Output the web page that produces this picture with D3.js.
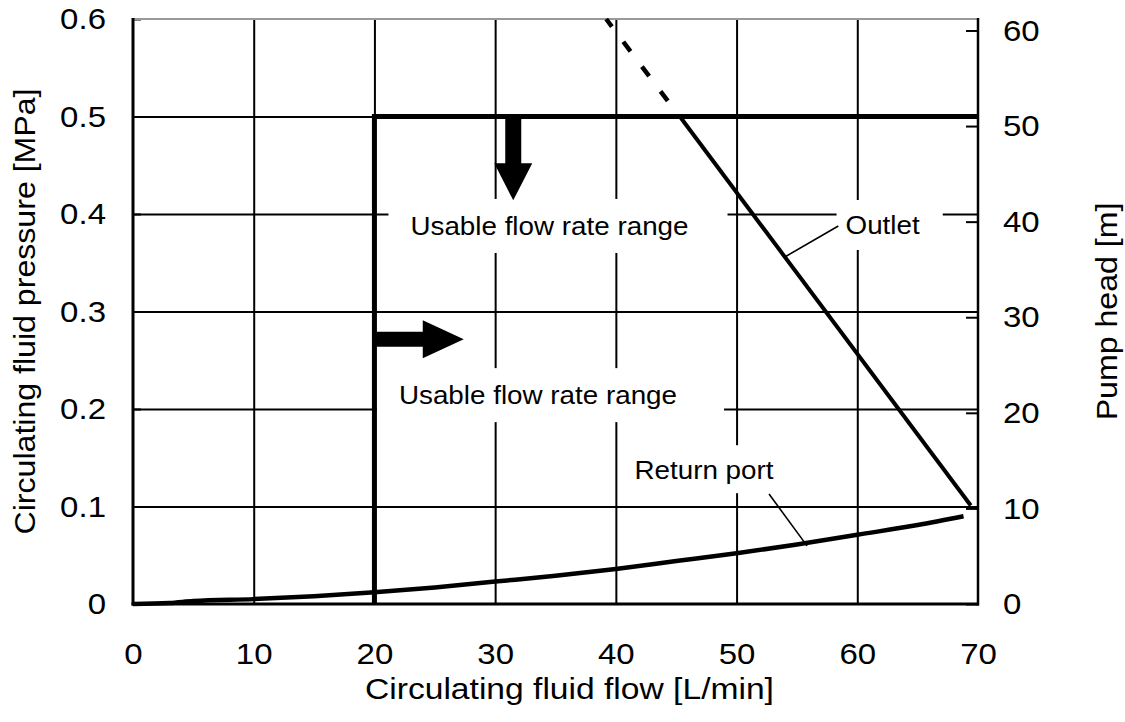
<!DOCTYPE html>
<html><head><meta charset="utf-8">
<script src="https://cdn.jsdelivr.net/npm/d3@7"></script>
<style>
body{margin:0;background:#fff}
svg{display:block}
text{font-family:"Liberation Sans",Arial,Helvetica,sans-serif;fill:#000}
</style>
</head><body>
<svg id="c" width="1125" height="722"></svg>
<script>
// ---------- data ----------
const flowTicks = [0, 10, 20, 30, 40, 50, 60, 70];
const pressureTicks = [0, 0.1, 0.2, 0.3, 0.4, 0.5, 0.6];
const headTicks = [0, 10, 20, 30, 40, 50, 60];
const mPerMPa = 102;                 // pump head [m] per MPa
const usableMinFlow = 20;            // L/min
const usableMaxPressure = 0.5;       // MPa
const outletFlow = [45.3, 69.4];
const outletPressure = [0.5, 0.101];
const outletExtFlow = [44.3, 39.2];
const outletExtPressure = [0.516, 0.6];
const returnFlow = [0, 3, 5, 10, 15, 20, 25, 30, 35, 40, 45, 50, 55, 60, 65, 68.8];
const returnPressure = [0, 0.001, 0.003, 0.005, 0.008, 0.012, 0.017, 0.023, 0.029, 0.036, 0.044, 0.052, 0.061, 0.071, 0.081, 0.090];
const labelTexts = ["Usable flow rate range", "Usable flow rate range", "Outlet", "Return port"];
const labelFlow = [34.5, 33.55, 62.1, 47.3];
const labelPressure = [0.3785, 0.205, 0.3795, 0.128];
const xTitle = "Circulating fluid flow [L/min]";
const yTitle = "Circulating fluid pressure [MPa]";
const y2Title = "Pump head [m]";

// ---------- layout ----------
const M = {left: 133, right: 978, top: 19, bottom: 604};
const svg = d3.select("#c");
const x = d3.scaleLinear().domain([0, 70]).range([M.left, M.right]);
const y = d3.scaleLinear().domain([0, 0.6]).range([M.bottom, M.top]);
const yH = d3.scaleLinear().domain([0, 0.6 * mPerMPa]).range([M.bottom, M.top]);
const FONT = "'Liberation Sans',Arial,Helvetica,sans-serif";

function stretch(sel, f) {
  sel.each(function () {
    const l = this.getComputedTextLength();
    this.setAttribute("textLength", l * f);
    this.setAttribute("lengthAdjust", "spacingAndGlyphs");
  });
}

// ---------- grid ----------
const gx = svg.append("g").attr("transform", `translate(0,${M.bottom})`)
  .call(d3.axisBottom(x).tickValues(flowTicks.slice(1, -1)).tickSize(-(M.bottom - M.top)).tickFormat(""));
gx.select(".domain").remove();
gx.selectAll("line").attr("stroke", "#000").attr("stroke-width", 2);

const gy = svg.append("g").attr("transform", `translate(${M.left},0)`)
  .call(d3.axisLeft(y).tickValues(pressureTicks.slice(1, -1)).tickSize(-(M.right - M.left)).tickFormat(""));
gy.select(".domain").remove();
gy.selectAll("line").attr("stroke", "#000").attr("stroke-width", 2);

// inner ticks
const tl = svg.append("g").attr("transform", `translate(${M.left},0)`)
  .call(d3.axisRight(y).tickValues(pressureTicks).tickSize(8).tickFormat(""));
tl.select(".domain").remove();
tl.selectAll("line").attr("stroke", "#000").attr("stroke-width", 2);
const tr = svg.append("g").attr("transform", `translate(${M.right},0)`)
  .call(d3.axisLeft(yH).tickValues(headTicks).tickSize(12).tickFormat(""));
tr.select(".domain").remove();
tr.selectAll("line").attr("stroke", "#000").attr("stroke-width", 2);

// frame
svg.append("line").attr("x1", x(0)).attr("x2", x(70)).attr("y1", y(0.6)).attr("y2", y(0.6))
  .attr("stroke", "#999").attr("stroke-width", 2);
svg.append("line").attr("x1", x(0)).attr("x2", x(0)).attr("y1", y(0) + 1.5).attr("y2", y(0.6) - 1)
  .attr("stroke", "#000").attr("stroke-width", 3);
svg.append("line").attr("x1", x(70)).attr("x2", x(70)).attr("y1", y(0) + 1.5).attr("y2", y(0.6) - 1)
  .attr("stroke", "#000").attr("stroke-width", 2.5);
svg.append("line").attr("x1", x(0) - 1.5).attr("x2", x(70) + 1).attr("y1", y(0)).attr("y2", y(0))
  .attr("stroke", "#000").attr("stroke-width", 3);

// ---------- label boxes (white, over grid) ----------
const boxPad = [[22, 39, 36, 18], [22, 47, 36, 18], [9, 23, 34, 16], [10, 25, 34, 14]];
const lab = svg.append("g");
labelTexts.forEach((t, i) => {
  const g = lab.append("g");
  const r = g.append("rect").attr("fill", "#fff");
  const tx = g.append("text").attr("x", x(labelFlow[i])).attr("y", y(labelPressure[i]))
    .attr("text-anchor", "middle").attr("font-size", 25.5).text(t);
  stretch(tx, 1.09);
  const b = tx.node().getBBox();
  const p = boxPad[i];
  r.attr("x", b.x - p[0]).attr("width", b.width + p[0] + p[1])
   .attr("y", y(labelPressure[i]) - p[2]).attr("height", p[2] + p[3]);
});

// ---------- usable range boundary ----------
svg.append("path")
  .attr("d", d3.line()([[x(usableMinFlow), y(0)], [x(usableMinFlow), y(usableMaxPressure)], [x(70), y(usableMaxPressure)]]))
  .attr("fill", "none").attr("stroke", "#000").attr("stroke-width", 5).attr("stroke-linejoin", "miter");

// arrows
const ax = x(31.5), ay0 = y(usableMaxPressure), ayTip = y(0.414);
svg.append("polygon").attr("fill", "#000").attr("points", [
  [ax - 8, ay0], [ax + 8, ay0], [ax + 8, ayTip - 37], [ax + 19, ayTip - 37], [ax, ayTip],
  [ax - 19, ayTip - 37], [ax - 8, ayTip - 37]].map(p => p.join(",")).join(" "));
const by = y(0.2715), bx0 = x(usableMinFlow), bxTip = x(27.4);
svg.append("polygon").attr("fill", "#000").attr("points", [
  [bx0, by - 7.5], [bxTip - 41, by - 7.5], [bxTip - 41, by - 19], [bxTip, by], [bxTip - 41, by + 19],
  [bxTip - 41, by + 7.5], [bx0, by + 7.5]].map(p => p.join(",")).join(" "));

// ---------- curves ----------
const line = d3.line().x(d => x(d[0])).y(d => y(d[1]));
svg.append("path").datum(outletFlow.map((f, i) => [f, outletPressure[i]]))
  .attr("d", line).attr("fill", "none").attr("stroke", "#000").attr("stroke-width", 4);
svg.append("path").datum(outletExtFlow.map((f, i) => [f, outletExtPressure[i]]))
  .attr("d", line).attr("fill", "none").attr("stroke", "#000").attr("stroke-width", 4.5)
  .attr("stroke-dasharray", "12,19");
svg.append("path").datum(returnFlow.map((f, i) => [f, returnPressure[i]]))
  .attr("d", line.curve(d3.curveMonotoneX)).attr("fill", "none").attr("stroke", "#000").attr("stroke-width", 4.5)
  .attr("stroke-linejoin", "round");

// leader lines
const outletAt = f => outletPressure[0] + (f - outletFlow[0]) * (outletPressure[1] - outletPressure[0]) / (outletFlow[1] - outletFlow[0]);
const returnAt = d3.scaleLinear().domain(returnFlow).range(returnPressure);
svg.append("line").attr("x1", x(58.43)).attr("y1", y(0.3877)).attr("x2", x(54.0)).attr("y2", y(outletAt(54.0)))
  .attr("stroke", "#000").attr("stroke-width", 1.6);
svg.append("line").attr("x1", x(52.69)).attr("y1", y(0.1128)).attr("x2", x(55.84)).attr("y2", y(returnAt(55.84)) + 3)
  .attr("stroke", "#000").attr("stroke-width", 1.6);

// ---------- tick labels ----------
function styleAxis(g) {
  g.select(".domain").remove();
  g.selectAll("line").remove();
  g.attr("font-family", FONT).attr("font-size", 30);
  g.selectAll("text").attr("fill", "#000");
}
const axB = svg.append("g").attr("transform", `translate(0,${M.bottom})`)
  .call(d3.axisBottom(x).tickValues(flowTicks).tickSize(0).tickPadding(39).tickFormat(d3.format("d")));
styleAxis(axB); stretch(axB.selectAll("text"), 1.1);
const axL = svg.append("g").attr("transform", `translate(${M.left},0)`)
  .call(d3.axisLeft(y).tickValues(pressureTicks).tickSize(0).tickPadding(27).tickFormat(d => d === 0 ? "0" : d3.format(".1f")(d)));
styleAxis(axL); stretch(axL.selectAll("text"), 1.1);
const axR = svg.append("g").attr("transform", `translate(${M.right},0)`)
  .call(d3.axisRight(yH).tickValues(headTicks).tickSize(0).tickPadding(25).tickFormat(d3.format("d")));
styleAxis(axR); stretch(axR.selectAll("text"), 1.1);

// ---------- titles ----------
const t1 = svg.append("text").attr("x", (x(0) + x(70)) / 2 + 14).attr("y", 699)
  .attr("text-anchor", "middle").attr("font-size", 30).text(xTitle);
stretch(t1, 1.12);
const t2 = svg.append("text").attr("transform", `translate(35,${(M.top + M.bottom) / 2}) rotate(-90)`)
  .attr("text-anchor", "middle").attr("font-size", 30).text(yTitle);
stretch(t2, 1.07);
const t3 = svg.append("text").attr("transform", `translate(1117,${(M.top + M.bottom) / 2}) rotate(-90)`)
  .attr("text-anchor", "middle").attr("font-size", 30).text(y2Title);
stretch(t3, 1.07);
</script>
</body></html>
